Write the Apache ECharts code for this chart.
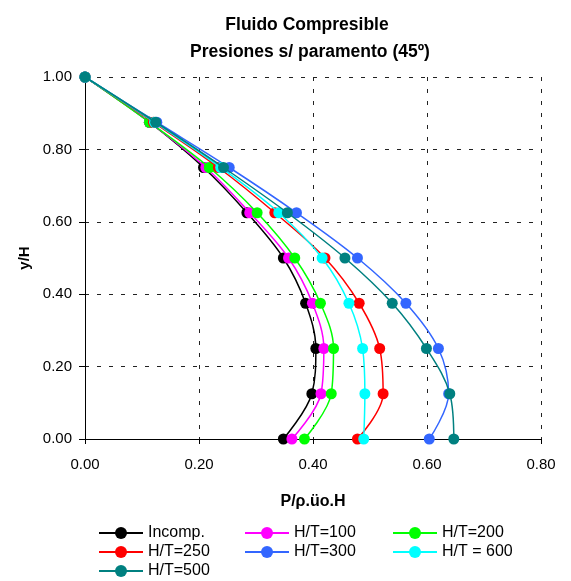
<!DOCTYPE html>
<html>
<head>
<meta charset="utf-8">
<script src="https://cdn.jsdelivr.net/npm/echarts@6/dist/echarts.min.js"></script>
<style>
  html, body { margin: 0; padding: 0; background: #fff; }
  #chart { width: 571px; height: 581px; }
</style>
</head>
<body>
<div id="chart"></div>
<script>
// Relative height levels along the face (y/H)
const yLevels = [1.0, 0.875, 0.75, 0.625, 0.5, 0.375, 0.25, 0.125, 0.0];

// Dimensionless pressure P/ρ.üo.H at each level, per case
const incomp = [0.000, 0.113, 0.208, 0.284, 0.348, 0.387, 0.405, 0.398, 0.348];
const ht100  = [0.000, 0.113, 0.212, 0.289, 0.357, 0.399, 0.419, 0.414, 0.363];
const ht200  = [0.000, 0.113, 0.218, 0.302, 0.368, 0.413, 0.436, 0.432, 0.385];
const ht250  = [0.000, 0.120, 0.234, 0.333, 0.421, 0.481, 0.517, 0.523, 0.478];
const ht300  = [0.000, 0.126, 0.253, 0.371, 0.478, 0.563, 0.620, 0.638, 0.604];
const ht600  = [0.000, 0.122, 0.238, 0.340, 0.416, 0.463, 0.487, 0.491, 0.489];
const ht500  = [0.000, 0.124, 0.243, 0.355, 0.456, 0.539, 0.599, 0.640, 0.647];

const seriesNames = ['Incomp.', 'H/T=100', 'H/T=200', 'H/T=250', 'H/T=300', 'H/T = 600', 'H/T=500'];
const seriesColors = ['#000000', '#FF00FF', '#00FF00', '#FF0000', '#3366FF', '#00FFFF', '#008080'];
const seriesValues = [incomp, ht100, ht200, ht250, ht300, ht600, ht500];

const xTicks = { min: 0, max: 0.8, step: 0.2 };
const yTicks = { min: 0, max: 1.0, step: 0.2 };

const font = 'Liberation Sans, Arial, sans-serif';

const chart = echarts.init(document.getElementById('chart'), null, { renderer: 'canvas' });

const series = seriesNames.map((name, i) => ({
  name: name,
  type: 'line',
  smooth: 0.35,
  data: seriesValues[i].map((x, k) => [x, yLevels[k]]),
  symbol: 'circle',
  symbolSize: 11,
  lineStyle: { width: 1.5, color: seriesColors[i] },
  itemStyle: { color: seriesColors[i] },
  emphasis: { disabled: true },
  z: 2 + i
}));

const legendCommon = {
  orient: 'vertical',
  top: 525,
  itemWidth: 44,
  itemHeight: 15,
  itemGap: 3,
  itemStyle: { borderWidth: 0 },
  textStyle: { fontFamily: font, fontSize: 16, color: '#000', padding: [0, 0, 0, 0] },
  padding: 0,
  selectedMode: false
};

chart.setOption({
  animation: false,
  backgroundColor: '#fff',
  title: [
    {
      text: 'Fluido Compresible',
      left: 302, top: 11, textAlign: 'center',
      textStyle: { fontFamily: font, fontSize: 17.5, fontWeight: 'bold', color: '#000' }
    },
    {
      text: 'Presiones s/ paramento (45º)',
      left: 305, top: 38, textAlign: 'center',
      textStyle: { fontFamily: font, fontSize: 17.5, fontWeight: 'bold', color: '#000' }
    }
  ],
  legend: [
    Object.assign({ left: 98, data: ['Incomp.', 'H/T=250', 'H/T=500'] }, legendCommon),
    Object.assign({ left: 244, data: ['H/T=100', 'H/T=300'] }, legendCommon),
    Object.assign({ left: 392, data: ['H/T=200', 'H/T = 600'] }, legendCommon)
  ],
  grid: { left: 85, right: 30, top: 77, bottom: 142, containLabel: false },
  xAxis: {
    type: 'value',
    min: xTicks.min, max: xTicks.max, interval: xTicks.step,
    name: 'P/ρ.üo.H',
    nameLocation: 'middle',
    nameGap: 55,
    nameTextStyle: { fontFamily: font, fontSize: 16, fontWeight: 'bold', color: '#000' },
    axisLine: { show: true, onZero: false, lineStyle: { color: '#000', width: 1 } },
    axisTick: { show: true, inside: false, length: 5, lineStyle: { color: '#000' } },
    axisLabel: {
      fontFamily: font, fontSize: 15, color: '#000', margin: 18,
      formatter: v => v.toFixed(2)
    },
    splitLine: { show: true, lineStyle: { color: '#222', type: [4, 8], width: 1 } }
  },
  yAxis: {
    type: 'value',
    min: yTicks.min, max: yTicks.max, interval: yTicks.step,
    name: 'y/H',
    nameLocation: 'middle',
    nameGap: 52,
    nameRotate: 90,
    nameTextStyle: { fontFamily: font, fontSize: 15, fontWeight: 'bold', color: '#000' },
    axisLine: { show: true, onZero: false, lineStyle: { color: '#000', width: 1 } },
    axisTick: { show: true, inside: false, length: 6, lineStyle: { color: '#000' } },
    axisLabel: {
      fontFamily: font, fontSize: 15, color: '#000', margin: 13,
      formatter: v => v.toFixed(2)
    },
    splitLine: { show: true, lineStyle: { color: '#222', type: [4, 8], width: 1 } }
  },
  series: series
});
</script>
</body>
</html>
